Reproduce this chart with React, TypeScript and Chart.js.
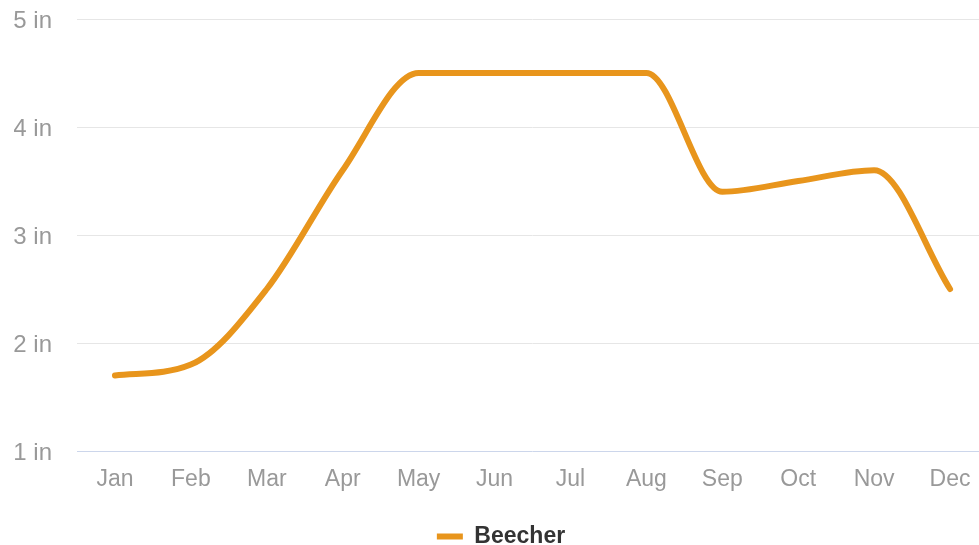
import { useEffect, useRef } from "react";
import { Chart, registerables } from "chart.js";

Chart.register(...registerables);

// Monthly rainfall for Beecher (inches)
const months = ["Jan", "Feb", "Mar", "Apr", "May", "Jun", "Jul", "Aug", "Sep", "Oct", "Nov", "Dec"];
const beecherRain = [1.7, 1.8, 2.5, 3.6, 4.5, 4.5, 4.5, 4.5, 3.4, 3.5, 3.6, 2.5];
const yMin = 1;
const yMax = 5;
const seriesName = "Beecher";

const LINE_COLOR = "#e8951c";
const FONT = "'Liberation Sans', Arial, sans-serif";

export default function App() {
  const canvasRef = useRef<HTMLCanvasElement | null>(null);

  useEffect(() => {
    const canvas = canvasRef.current;
    if (!canvas) return;
    const chart = new Chart(canvas, {
      type: "line",
      data: {
        labels: months,
        datasets: [
          {
            label: seriesName,
            data: beecherRain,
            borderColor: LINE_COLOR,
            backgroundColor: LINE_COLOR,
            borderWidth: 6,
            borderCapStyle: "round",
            borderJoinStyle: "round",
            cubicInterpolationMode: "monotone",
            pointRadius: 0,
            pointHoverRadius: 0,
            fill: false,
          },
        ],
      },
      options: {
        animation: false,
        responsive: false,
        maintainAspectRatio: false,
        layout: { padding: { top: 19, right: 0, bottom: 0, left: 14 } },
        plugins: {
          tooltip: { enabled: false },
          legend: {
            position: "bottom",
            labels: {
              color: "#333333",
              font: { family: FONT, size: 23, weight: "bold" },
              boxWidth: 26,
              boxHeight: 6,
              padding: 0,
              generateLabels: (c) =>
                c.data.datasets.map((ds, i) => ({
                  text: String(ds.label),
                  fillStyle: LINE_COLOR,
                  strokeStyle: LINE_COLOR,
                  lineWidth: 0,
                  hidden: false,
                  datasetIndex: i,
                  fontColor: "#333333",
                })),
            },
          },
        },
        scales: {
          x: {
            offset: true,
            grid: { display: false, drawTicks: false },
            border: { display: false },
            ticks: {
              color: "#999999",
              font: { family: FONT, size: 23 },
              padding: 15,
              maxRotation: 0,
              autoSkip: false,
            },
            afterFit: (scale) => {
              scale.height = 74;
            },
          },
          y: {
            min: yMin,
            max: yMax,
            grid: {
              drawTicks: false,
              lineWidth: 1,
              color: (ctx) => (ctx.tick && ctx.tick.value === yMin ? "#ccd6eb" : "#e6e6e6"),
            },
            border: { display: false },
            ticks: {
              stepSize: 1,
              color: "#999999",
              font: { family: FONT, size: 24 },
              padding: 25,
              labelOffset: 2,
              callback: (v) => `${v} in`,
            },
            afterFit: (scale) => {
              scale.width = 63;
              scale.paddingTop = 0;
              scale.paddingBottom = 0;
            },
          },
        },
      },
    });
    return () => chart.destroy();
  }, []);

  return (
    <div
      style={{
        position: "fixed",
        top: 0,
        left: 0,
        width: 979,
        height: 545,
        overflow: "hidden",
        background: "#ffffff",
      }}
    >
      <canvas ref={canvasRef} width={988} height={558} style={{ display: "block" }} />
    </div>
  );
}
